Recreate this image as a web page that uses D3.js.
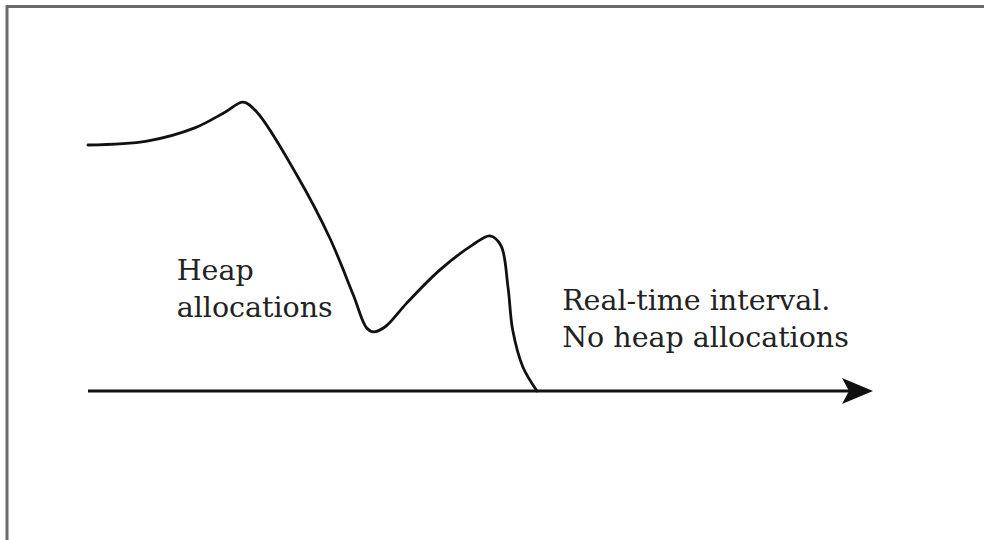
<!DOCTYPE html>
<html>
<head>
<meta charset="utf-8">
<script src="https://cdn.jsdelivr.net/npm/d3@7"></script>
<style>
  html, body { margin: 0; padding: 0; background: #fff; }
  svg { display: block; }
</style>
</head>
<body>
<div id="chart"></div>
<script>
// heap usage over time (arbitrary units)
const timeVals = [0, 7.5, 13.6, 17.5, 19.75, 21.5, 26.6, 30.8, 33.8, 35.5, 36.4, 37.9, 40.6, 44.8, 49, 51.2, 52.6, 53.5, 54.1, 55.4, 57.2];
const heapVals = [82, 83.3, 87.7, 93, 96.3, 93, 72, 51, 32, 21, 19.7, 21.5, 29.3, 40.3, 48.7, 51.7, 48.5, 34.7, 20.3, 8, 0];
const labels = [
  { t: 11.3, h: 37, lines: ["Heap", "allocations"] },
  { t: 60.4, h: 27, lines: ["Real-time interval.", "No heap allocations"] }
];

const width = 984, height = 540;

const svg = d3.select("#chart")
  .append("svg")
  .attr("width", width)
  .attr("height", height);

// frame (only top and left edges are in view)
svg.append("rect")
  .attr("x", 7)
  .attr("y", 6.5)
  .attr("width", width + 20)
  .attr("height", height + 20)
  .style("fill", "none")
  .style("stroke", "#6a6a6a")
  .style("stroke-width", 3);

const x = d3.scaleLinear().domain([0, 100]).range([88, 873]);
const y = d3.scaleLinear().domain([0, 100]).range([391, 91]);

// time axis with arrow
svg.append("line")
  .attr("x1", x(0))
  .attr("x2", x(100) - 20)
  .attr("y1", y(0))
  .attr("y2", y(0))
  .style("stroke", "#111")
  .style("stroke-width", 3);

const tipX = x(100), tipY = y(0);
svg.append("path")
  .attr("d", "M" + tipX + "," + tipY +
    " L" + (tipX - 31) + "," + (tipY - 13) +
    " L" + (tipX - 24) + "," + tipY +
    " L" + (tipX - 31) + "," + (tipY + 13) + " Z")
  .style("fill", "#111");

// heap curve
const pts = timeVals.map((t, i) => [t, heapVals[i]]);
const line = d3.line()
  .x(d => x(d[0]))
  .y(d => y(d[1]))
  .curve(d3.curveCatmullRom.alpha(0.5));

svg.append("path")
  .datum(pts)
  .attr("d", line)
  .style("fill", "none")
  .style("stroke", "#111")
  .style("stroke-width", 2.8)
  .style("stroke-linejoin", "round")
  .style("stroke-linecap", "round");

// labels
labels.forEach(function(l) {
  const txt = svg.append("text")
    .attr("x", x(l.t))
    .attr("y", y(l.h))
    .style("font-family", "'DejaVu Serif', serif")
    .style("font-size", "28.5px")
    .style("fill", "#222");
  l.lines.forEach(function(s, i) {
    txt.append("tspan")
      .attr("x", x(l.t))
      .attr("dy", i === 0 ? 0 : 37)
      .text(s);
  });
});
</script>
</body>
</html>
